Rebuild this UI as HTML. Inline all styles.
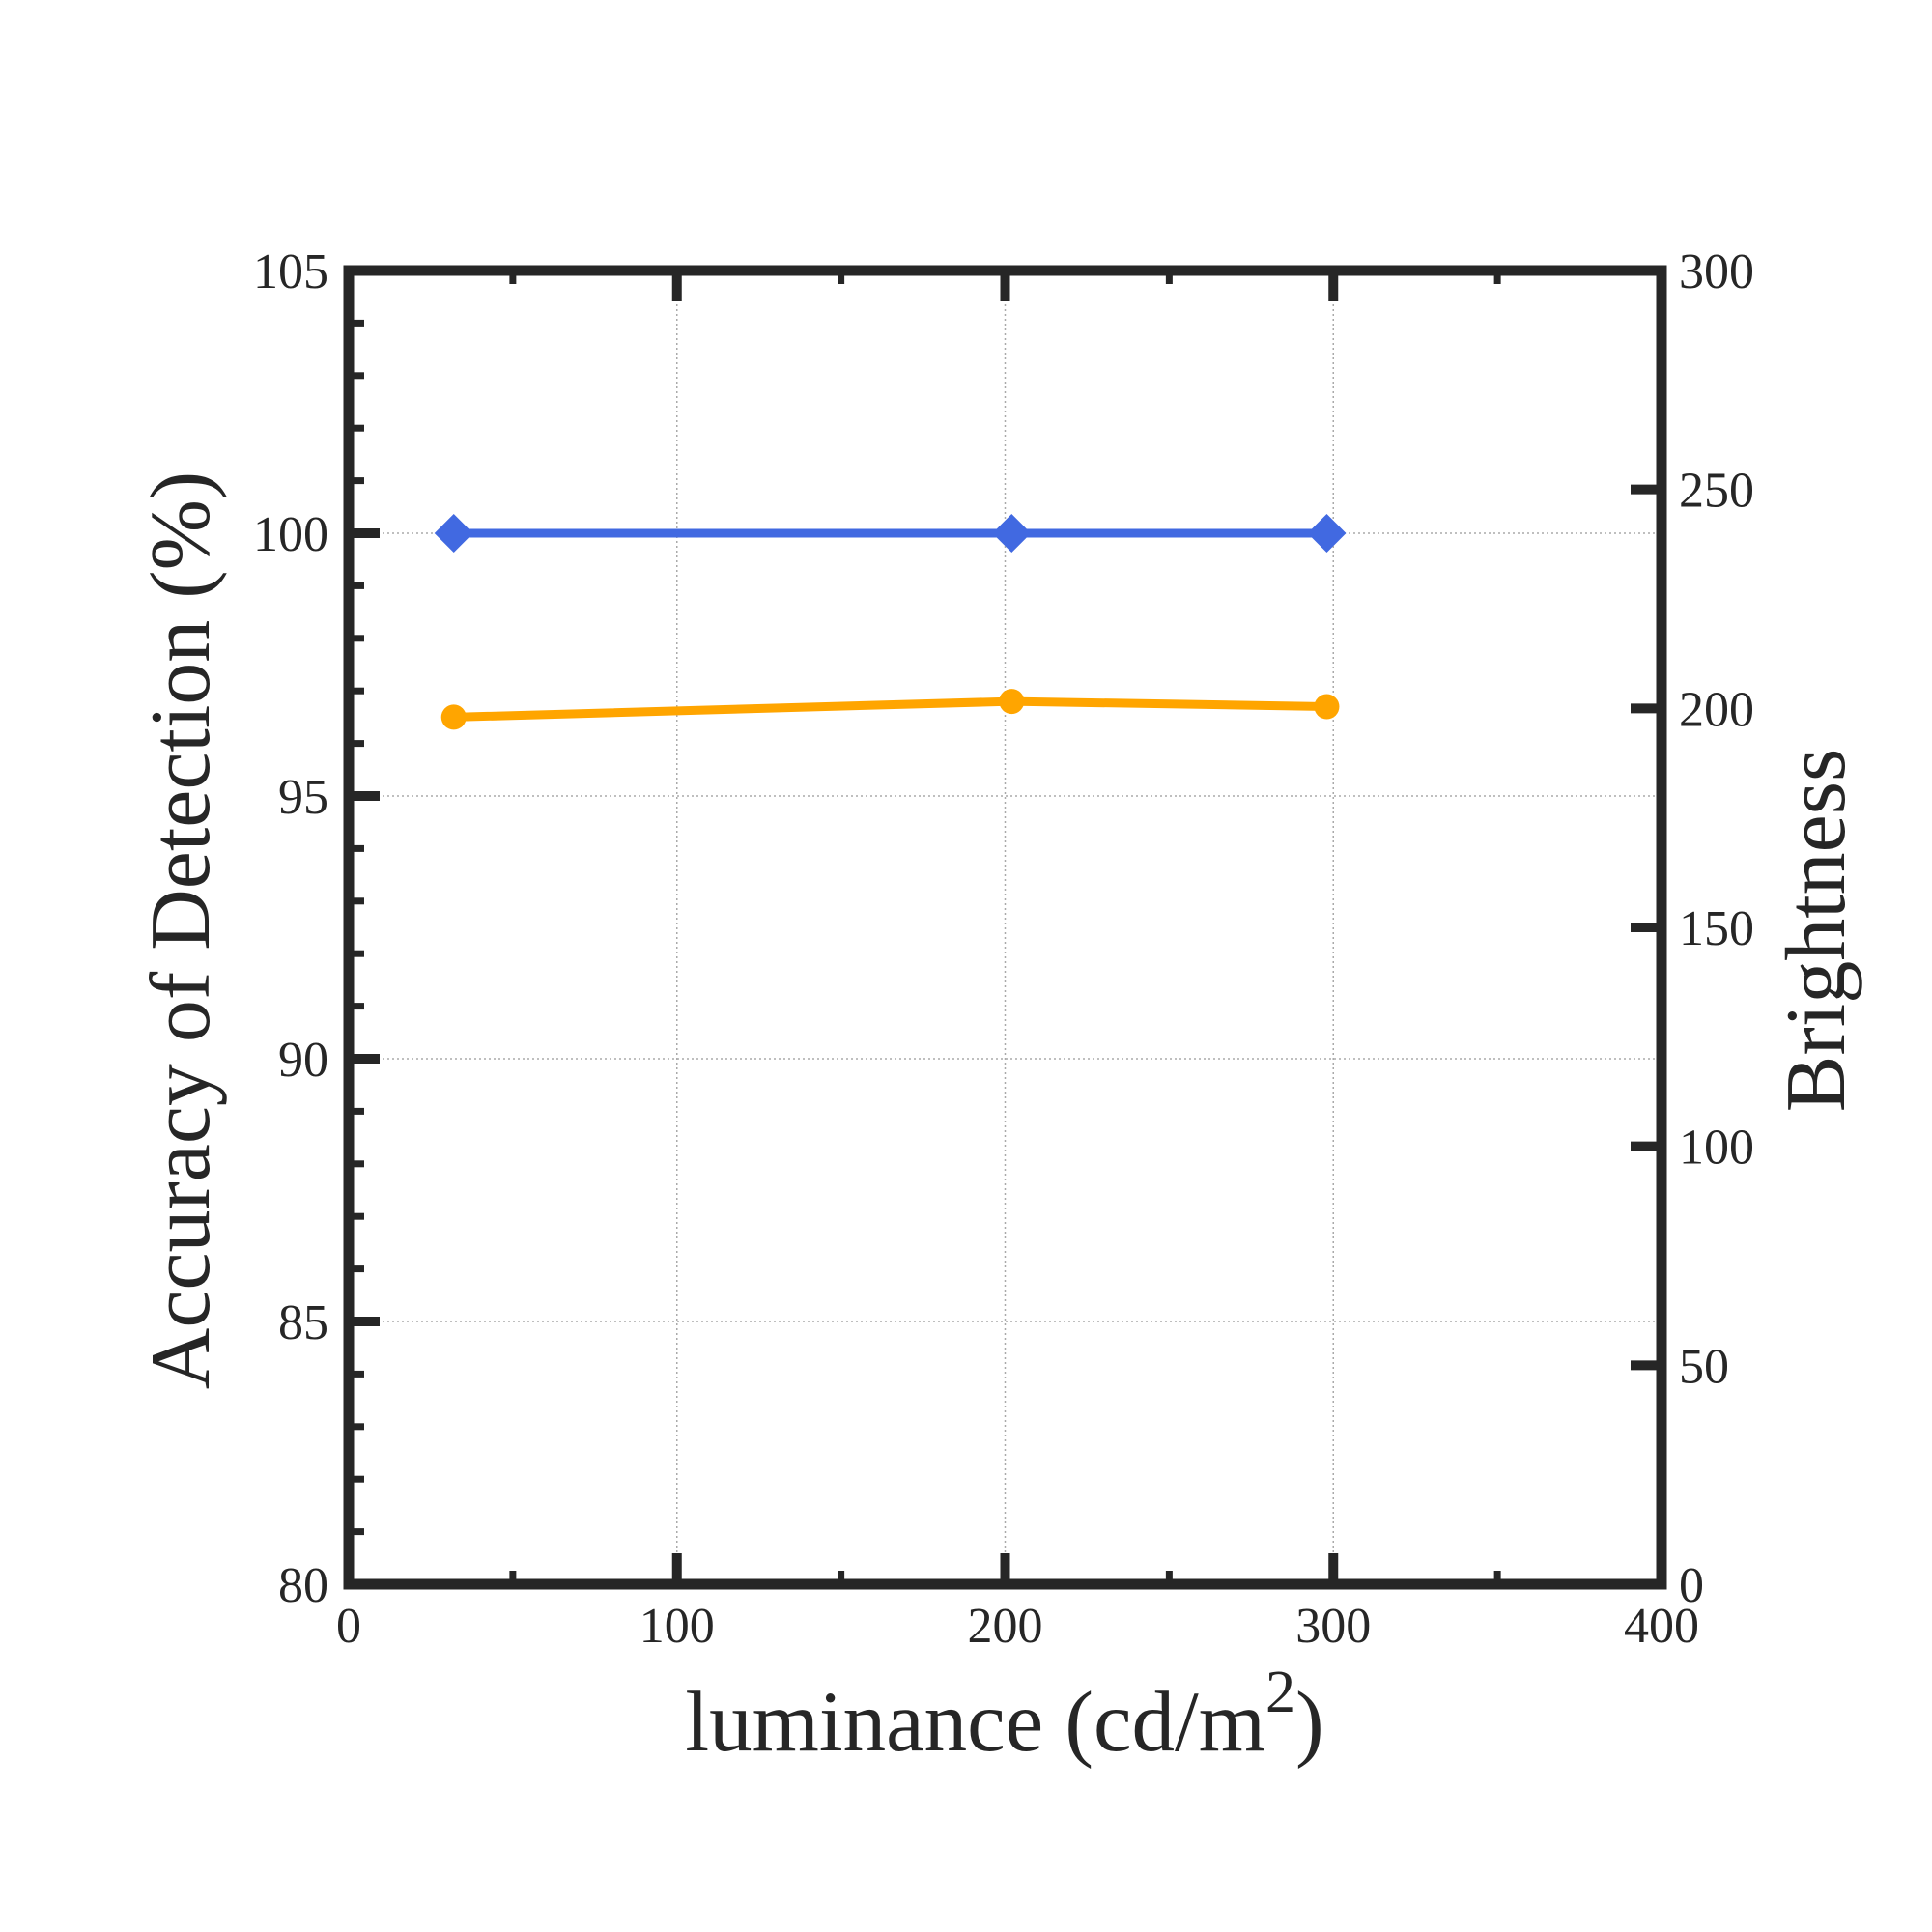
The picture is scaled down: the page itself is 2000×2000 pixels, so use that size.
<!DOCTYPE html>
<html><head><meta charset="utf-8"><style>
html,body{margin:0;padding:0;background:#fff;}
svg{display:block;font-family:"Liberation Serif",serif;}
</style></head><body>
<svg id="chart" width="2000" height="2000" viewBox="0 0 2000 2000" xmlns="http://www.w3.org/2000/svg"></svg>
<script>
const xTicks=[0,100,200,300,400];
const yTicks=[80,85,90,95,100,105];
const y2Ticks=[0,50,100,150,200,250,300];
const xVals=[32,202,298];
const accuracy=[100,100,100];
const brightnessAcc=[96.5,96.8,96.7];
const L=361,R=1720,T=280,B=1640;
const sx=v=>L+(v-0)/(400-0)*(R-L);
const sy=v=>B-(v-80)/(105-80)*(B-T);
const sy2=v=>B-(v-0)/(300-0)*(B-T);
const svg=document.getElementById('chart');
const NS='http://www.w3.org/2000/svg';
function mk(tag,attrs,parent){const e=document.createElementNS(NS,tag);for(const k in attrs)e.setAttribute(k,attrs[k]);(parent||svg).appendChild(e);return e;}
const ink='#262626';
const grid=mk('g',{});


xTicks.slice(1,-1).forEach(v=>{const l=mk('line',{x1:sx(v),x2:sx(v),y1:T,y2:B,stroke:'#aaa','stroke-width':1.5,'stroke-dasharray':'2 3'},grid);});
yTicks.slice(1,-1).forEach(v=>{const l=mk('line',{x1:L,x2:R,y1:sy(v),y2:sy(v),stroke:'#aaa','stroke-width':1.5,'stroke-dasharray':'2 3'},grid);});
const tk=mk('g',{stroke:ink});


for(let v=0;v<=400;v+=50){const len=v%100===0?32:14;const w=v%100===0?10:7;
mk('line',{x1:sx(v),x2:sx(v),y1:B,y2:B-len,'stroke-width':w},tk);
mk('line',{x1:sx(v),x2:sx(v),y1:T,y2:T+len,'stroke-width':w},tk);}
for(let v=80;v<=105;v+=1){const major=v%5===0;mk('line',{x1:L,x2:L+(major?32:16),y1:sy(v),y2:sy(v),'stroke-width':major?10:7},tk);}
y2Ticks.forEach(v=>{mk('line',{x1:R,x2:R-32,y1:sy2(v),y2:sy2(v),'stroke-width':10},tk);});
const s1=mk('polyline',{points:xVals.map((x,i)=>sx(x)+','+sy(accuracy[i])).join(' '),fill:'none',stroke:'#4169e1','stroke-width':9});


xVals.forEach((x,i)=>{const cx=sx(x),cy=sy(accuracy[i]);const m=mk('polygon',{points:`${cx-20},${cy} ${cx},${cy-20} ${cx+20},${cy} ${cx},${cy+20}`,fill:'#4169e1'});});
const s2=mk('polyline',{points:xVals.map((x,i)=>sx(x)+','+sy(brightnessAcc[i])).join(' '),fill:'none',stroke:'#ffa500','stroke-width':9});


xVals.forEach((x,i)=>{const m=mk('circle',{cx:sx(x),cy:sy(brightnessAcc[i]),r:13,fill:'#ffa500'});});
const fr=mk('rect',{x:L,y:T,width:R-L,height:B-T,fill:'none',stroke:ink,'stroke-width':11});


function txt(s,attrs,name){const t=mk('text',Object.assign({fill:ink,'font-size':52},attrs));t.textContent=s;return t;}
xTicks.forEach(v=>txt(String(v),{x:sx(v),y:1700,'text-anchor':'middle'},'x-tick-label'));
yTicks.forEach(v=>txt(String(v),{x:340,y:sy(v)+18,'text-anchor':'end'},'y-tick-label'));
y2Ticks.forEach(v=>txt(String(v),{x:1738,y:sy2(v)+18,'text-anchor':'start'},'y2-tick-label'));
const xl=txt('',{x:1040,y:1812,'text-anchor':'middle','font-size':89},'x-axis-title');
xl.innerHTML='luminance (cd/m<tspan dy="-40" font-size="62">2</tspan><tspan dy="40">)</tspan>';
txt('Accuracy of Detection (%)',{x:0,y:0,'text-anchor':'middle','font-size':88,transform:'translate(216,963) rotate(-90)'},'y-axis-title');
txt('Brightness',{x:0,y:0,'text-anchor':'middle','font-size':88,transform:'translate(1909,963) rotate(-90)'},'y2-axis-title');
</script>
</body></html>
